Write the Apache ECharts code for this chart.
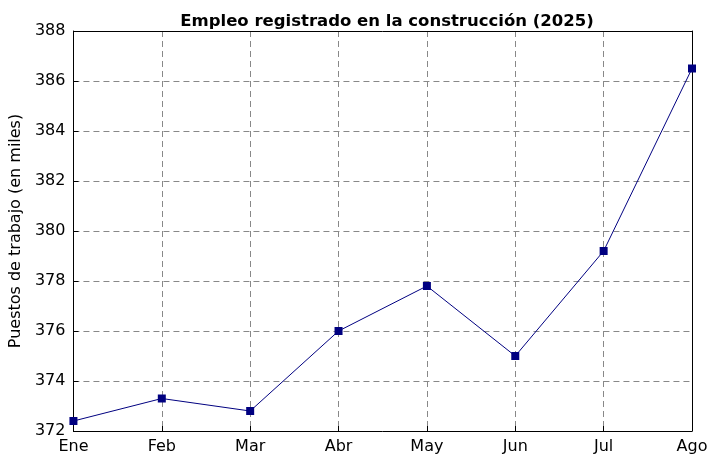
<!DOCTYPE html>
<html>
<head>
<meta charset="utf-8">
<script src="https://cdn.jsdelivr.net/npm/echarts@6/dist/echarts.min.js"></script>
<style>html,body{margin:0;padding:0;background:#fff}#main{width:718px;height:465px}</style>
</head>
<body>
<div id="main"></div>
<script>
var months = ['Ene','Feb','Mar','Abr','May','Jun','Jul','Ago'];
var empleo = [372.4, 373.3, 372.8, 376.0, 377.8, 375.0, 379.2, 386.5];

var chart = echarts.init(document.getElementById('main'));
var font = 'DejaVu Sans';
var frame = { show: true, lineStyle: { color: '#000' } };
chart.setOption({
    animation: false,
    textStyle: { fontFamily: font },
    title: {
        text: 'Empleo registrado en la construcción (2025)',
        left: 382, top: 8, textAlign: 'center',
        textStyle: { fontSize: 16.5, fontWeight: 'bold', color: '#000', fontFamily: font }
    },
    grid: { left: 72, right: 26, top: 31, bottom: 34 },
    xAxis: [{
        type: 'category', data: months, boundaryGap: false,
        axisLine: frame,
        axisTick: { inside: true, length: 5, lineStyle: { color: '#000' } },
        axisLabel: { color: '#000', fontSize: 16, margin: 8 },
        splitLine: { show: true, lineStyle: { color: '#888', type: [6, 4] } }
    }, {
        type: 'category', data: months, boundaryGap: false, position: 'top',
        axisLine: frame, axisTick: { show: false }, axisLabel: { show: false }
    }],
    yAxis: [{
        type: 'value', min: 372, max: 388, interval: 2,
        name: 'Puestos de trabajo (en miles)', nameLocation: 'middle', nameGap: 48,
        nameTextStyle: { fontSize: 16, color: '#000' },
        axisLine: frame,
        axisTick: { show: true, inside: true, length: 5, lineStyle: { color: '#000' } },
        axisLabel: { color: '#000', fontSize: 16, margin: 8 },
        splitLine: { show: true, lineStyle: { color: '#888', type: [6, 4] } }
    }, {
        type: 'value', min: 372, max: 388, interval: 2, position: 'right',
        axisLine: frame, axisTick: { show: false }, axisLabel: { show: false },
        splitLine: { show: false }
    }],
    series: [{
        type: 'line', data: empleo,
        symbol: 'rect', symbolSize: 8,
        lineStyle: { color: '#000080', width: 1 },
        itemStyle: { color: '#000080' }
    }]
});
</script>
</body>
</html>
